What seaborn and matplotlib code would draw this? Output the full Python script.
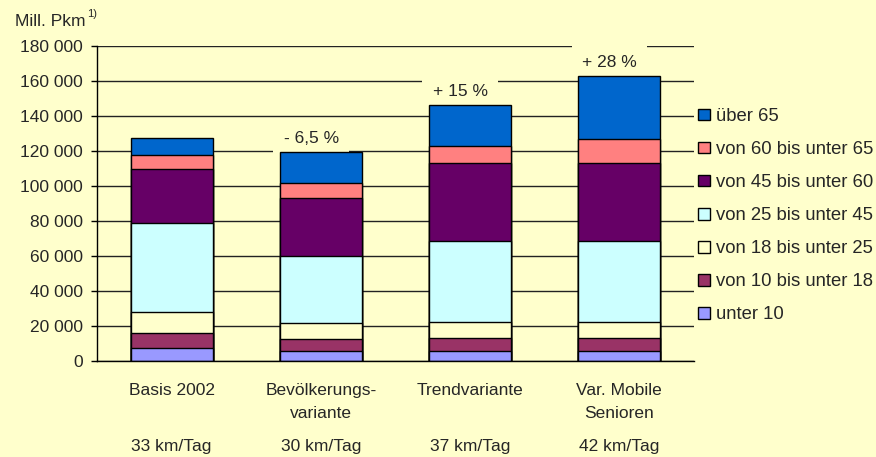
import numpy as np
import pandas as pd
import matplotlib
matplotlib.use("Agg")
import matplotlib.pyplot as plt
import matplotlib.transforms as mtransforms
from matplotlib.patches import Patch
from matplotlib.ticker import FuncFormatter, FixedLocator
import seaborn as sns

# data (Mill. Pkm)
szenarien = ["Basis 2002", "Bevölkerungs-\nvariante", "Trendvariante", "Var. Mobile\nSenioren"]
km_tag = ["33 km/Tag", "30 km/Tag", "37 km/Tag", "42 km/Tag"]
aenderung = ["", "- 6,5 %", "+ 15 %", "+ 28 %"]

altersgruppen = ["unter 10", "von 10 bis unter 18", "von 18 bis unter 25", "von 25 bis unter 45",
                 "von 45 bis unter 60", "von 60 bis unter 65", "über 65"]
unter_10 = [7600, 5700, 5700, 5700]
von_10_18 = [8200, 6700, 7300, 7300]
von_18_25 = [12400, 9500, 9300, 9300]
von_25_45 = [50800, 38300, 46500, 46500]
von_45_60 = [30700, 32800, 44300, 44300]
von_60_65 = [8000, 8500, 9600, 13900]
ueber_65 = [9500, 17700, 23400, 35900]

farben = ["#9999FF", "#993366", "#FFFFCC", "#CCFFFF", "#660066", "#FF8080", "#0066CC"]
bg = "#FFFFCC"

werte = [unter_10, von_10_18, von_18_25, von_25_45, von_45_60, von_60_65, ueber_65]
df = pd.DataFrame(dict(zip(altersgruppen, werte)), index=szenarien)
kum = df.cumsum(axis=1)

sns.set_style("white")
plt.rcParams["font.family"] = ["Liberation Sans", "DejaVu Sans"]
plt.rcParams["font.size"] = 12.5

fig = plt.figure(figsize=(8.76, 4.57), dpi=100, facecolor=bg)
ax = fig.add_axes([97 / 876, 1 - 361 / 457, (694 - 97) / 876, 315 / 457])
ax.set_facecolor(bg)

# stacked bars: draw cumulative totals from top layer down
for gruppe, farbe in reversed(list(zip(altersgruppen, farben))):
    sns.barplot(x=list(range(len(szenarien))), y=kum[gruppe].values, color=farbe,
                width=0.55, edgecolor="black", linewidth=1, saturation=1,
                ax=ax, zorder=2, native_scale=True)

ax.set_xlim(-0.5, len(szenarien) - 0.5)
ax.set_ylim(0, 180000)
ax.set_yticks(np.arange(0, 180001, 20000))
ax.yaxis.set_major_formatter(FuncFormatter(lambda v, p: f"{v:,.0f}".replace(",", " ")))
ax.set_xticks(range(len(szenarien)))
ax.set_xticklabels(szenarien, linespacing=1.65, va="top")
ax.xaxis.set_minor_locator(FixedLocator(np.arange(-0.5, len(szenarien), 1)))
ax.tick_params(axis="x", which="major", length=0, pad=16)
ax.tick_params(axis="x", which="minor", length=5, width=1, color="black", direction="out")
ax.tick_params(axis="y", length=4, width=1, color="black", direction="out", pad=6, left=True)
ax.set_xlabel("")
ax.set_ylabel("")

ax.set_axisbelow(True)
ax.yaxis.grid(True, color="#222222", linewidth=1)
for s in ["top", "right"]:
    ax.spines[s].set_visible(False)
for s in ["left", "bottom"]:
    ax.spines[s].set_color("black")
    ax.spines[s].set_linewidth(1)

# km/Tag row below the category labels
trans = mtransforms.blended_transform_factory(ax.transData, ax.transAxes)
for i, t in enumerate(km_tag):
    ax.text(i, -85 / 315, t, transform=trans, ha="center", va="center")

# change vs Basis above the bars
summe = kum.iloc[:, -1].values
for i, t in enumerate(aenderung):
    if t:
        ax.annotate(t, xy=(i, summe[i]), xytext=(-7, 10), textcoords="offset points",
                    ha="center", va="center", zorder=1.5,
                    bbox=dict(boxstyle="square,pad=0.6", facecolor=bg, edgecolor="none"))

fig.text(15 / 876, 1 - 22 / 457, "Mill. Pkm", ha="left", va="center")
fig.text(87 / 876, 1 - 14 / 457, "1)", ha="left", va="center", fontsize=8)

handles = [Patch(facecolor=f, edgecolor="black", linewidth=1) for f in farben]
fig.legend(handles[::-1], altersgruppen[::-1], loc="upper left",
           bbox_to_anchor=(698 / 876, 1 - 108 / 457), frameon=False, fontsize=13.3,
           handlelength=0.65, handleheight=0.6, handletextpad=0.33,
           labelspacing=0.87, borderpad=0, borderaxespad=0)

fig.savefig("out.png", dpi=100, facecolor=bg)
